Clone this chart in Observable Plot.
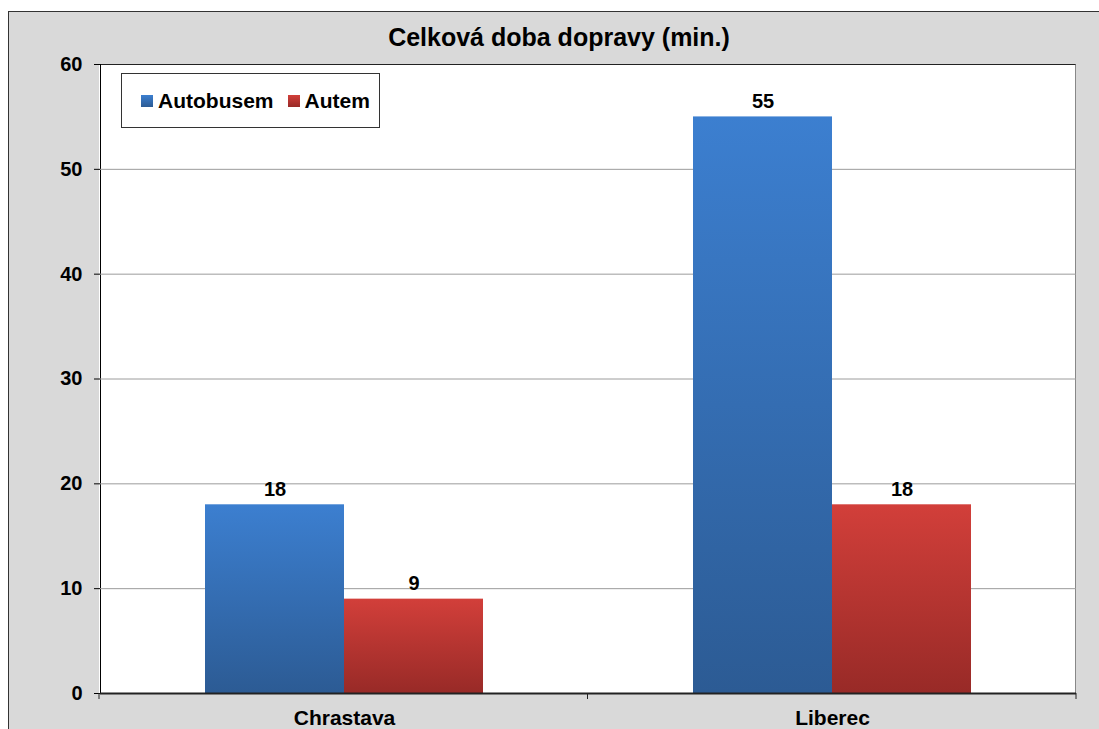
<!DOCTYPE html>
<html><head><meta charset="utf-8">
<script src="https://cdn.jsdelivr.net/npm/d3@7"></script>
<script src="https://cdn.jsdelivr.net/npm/@observablehq/plot@0.6"></script>
<style>
html,body{margin:0;padding:0;background:#fff;overflow:hidden;width:1099px;height:729px;}
#wrap{position:relative;width:1099px;height:729px;font-family:"Liberation Sans",Arial,sans-serif;color:#000;}
#frame{position:absolute;left:8px;top:11px;width:1200px;height:800px;background:#d9d9d9;border:1.5px solid #333;box-sizing:border-box;}
#plotbg{position:absolute;left:99px;top:64px;width:977px;height:629px;background:#fff;border-top:1.5px solid #222;border-right:1px solid #888;box-sizing:border-box;}
#title{position:absolute;left:0;width:1118px;top:22px;text-align:center;font-weight:bold;font-size:25px;line-height:30px;white-space:nowrap;}
#chart{position:absolute;left:0;top:0;}
#legend{position:absolute;left:121px;top:73px;width:259px;height:55px;border:1px solid #333;background:#fff;box-sizing:border-box;display:flex;align-items:center;padding-left:19px;font-weight:bold;font-size:21px;white-space:nowrap;}
#legend .item{display:flex;align-items:center;margin-right:14px;}
#legend .sw{width:12px;height:12px;margin-right:5px;}
</style>
</head><body>
<div id="wrap">
  <div id="frame"></div>
  <div id="plotbg"></div>
  <div id="title"></div>
  <div id="chart"></div>
  <div id="legend"></div>
</div>
<script>
const cities = ["Chrastava", "Liberec"];
const series = ["Autobusem", "Autem"];
const busValues = [18, 55];
const carValues = [9, 18];
const yTicks = [0, 10, 20, 30, 40, 50, 60];
const titleText = "Celková doba dopravy (min.)";
const seriesTop = ["#3c7fd0", "#d23f3a"];
const seriesBottom = ["#2c5b94", "#982a27"];

const data = cities.flatMap((c, i) => [
  {city: c, mode: series[0], value: busValues[i]},
  {city: c, mode: series[1], value: carValues[i]}
]);

document.getElementById("title").textContent = titleText;

const legend = document.getElementById("legend");
series.forEach((s, i) => {
  const it = document.createElement("div"); it.className = "item";
  const sw = document.createElement("div"); sw.className = "sw";
  sw.style.background = `linear-gradient(${seriesTop[i]}, ${seriesBottom[i]})`;
  const tx = document.createElement("span"); tx.textContent = s;
  it.appendChild(sw); it.appendChild(tx); legend.appendChild(it);
});

const gradIds = series.map((s, i) => "grad" + i);

const plot = Plot.plot({
  width: 1099, height: 729,
  marginLeft: 99, marginRight: 23, marginTop: 64, marginBottom: 36,
  style: {background: "transparent", fontFamily: "Liberation Sans, Arial, sans-serif", fontSize: "20px", fontWeight: "bold", color: "#000", overflow: "visible"},
  fx: {domain: cities, padding: 0, label: null, axis: "bottom", tickSize: 0, tickPadding: 17},
  x: {domain: series, paddingInner: 0, paddingOuter: 0.745, axis: null},
  y: {domain: [0, 60], ticks: yTicks, tickSize: 6, tickPadding: 12, label: null, line: true},
  color: {domain: series, range: gradIds.map(id => `url(#${id})`)},
  marks: [
    Plot.ruleY(yTicks.slice(1, -1), {stroke: "#9c9c9c", strokeWidth: 1}),
    Plot.barY(data, {fx: "city", x: "mode", y: "value", fill: "mode"}),
    Plot.text(data, {fx: "city", x: "mode", y: "value", text: "value", dy: -9, lineAnchor: "bottom", fontSize: 20, fontWeight: "bold", fill: "#000"}),
    Plot.ruleY([0], {stroke: "#222", strokeWidth: 2})
  ]
});

const svg = d3.select(plot);
const defs = svg.insert("defs", ":first-child");
series.forEach((s, i) => {
  const g = defs.append("linearGradient").attr("id", gradIds[i])
    .attr("x1", 0).attr("y1", 0).attr("x2", 0).attr("y2", 1);
  g.append("stop").attr("offset", "0%").attr("stop-color", seriesTop[i]);
  g.append("stop").attr("offset", "100%").attr("stop-color", seriesBottom[i]);
});

// category axis labels slightly larger
svg.selectAll("[aria-label='fx-axis tick label'] text, [aria-label='fx-axis tick label']").style("font-size", "21px");

// category boundary ticks
const fx = plot.scale("fx");
const y = plot.scale("y");
const y0 = y.apply(0);
const step = (fx.range[1] - fx.range[0]) / cities.length;
for (let i = 0; i <= cities.length; i++) {
  const xx = fx.range[0] + i * step;
  svg.append("line").attr("x1", xx).attr("x2", xx).attr("y1", y0).attr("y2", y0 + 6)
    .attr("stroke", "#222").attr("stroke-width", 1);
}

document.getElementById("chart").appendChild(plot);
</script>
</body></html>
